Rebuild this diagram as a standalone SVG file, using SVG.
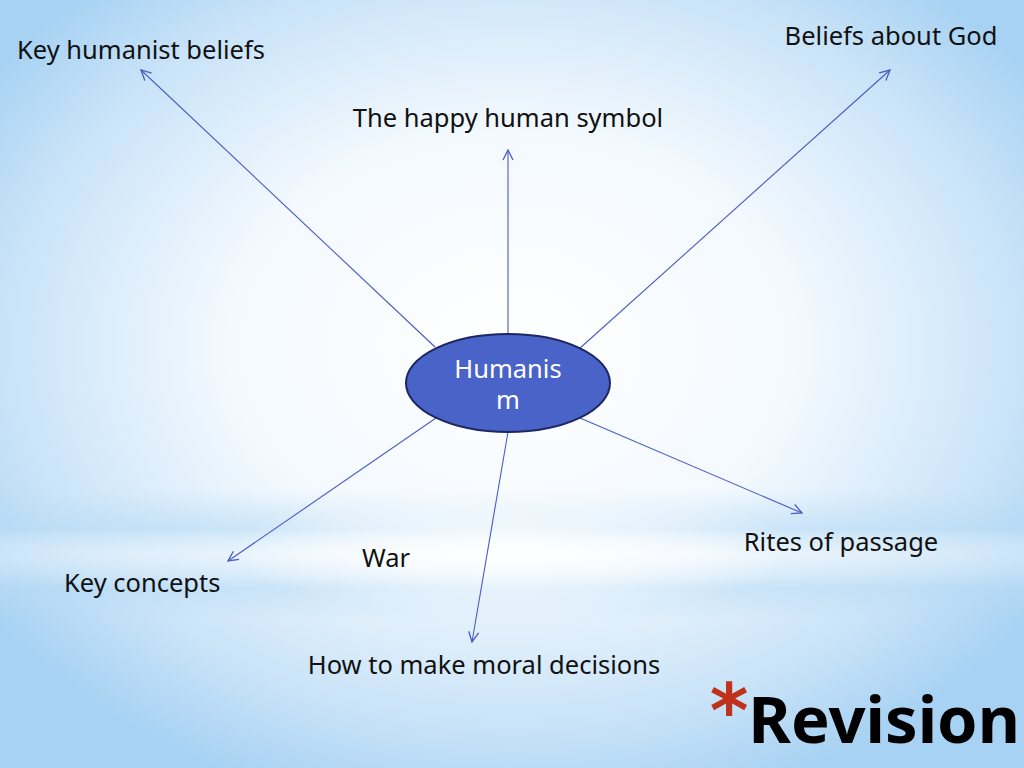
<svg xmlns="http://www.w3.org/2000/svg" width="1024" height="768" viewBox="0 0 1024 768">
<defs>
<radialGradient id="bg" cx="0.5" cy="0.45" r="0.62">
<stop offset="0" stop-color="#ffffff"/>
<stop offset="0.45" stop-color="#f3f9fe"/>
<stop offset="0.8" stop-color="#c9e3f8"/>
<stop offset="1" stop-color="#a7d2f3"/>
</radialGradient>
<linearGradient id="band" x1="0" y1="0" x2="0" y2="1">
<stop offset="0" stop-color="#b6daf5" stop-opacity="0"/>
<stop offset="0.3" stop-color="#b6daf5" stop-opacity="0.55"/>
<stop offset="0.5" stop-color="#ffffff" stop-opacity="0.3"/>
<stop offset="0.75" stop-color="#b6daf5" stop-opacity="0.5"/>
<stop offset="1" stop-color="#b6daf5" stop-opacity="0"/>
</linearGradient>
<radialGradient id="fade" cx="0.5" cy="0.5" r="0.5">
<stop offset="0" stop-color="#ffffff" stop-opacity="0.9"/>
<stop offset="0.6" stop-color="#ffffff" stop-opacity="0.4"/>
<stop offset="1" stop-color="#ffffff" stop-opacity="0"/>
</radialGradient>
<marker id="arr" viewBox="0 0 12 12" refX="11" refY="6" markerWidth="12" markerHeight="12" markerUnits="userSpaceOnUse" orient="auto">
<path d="M1,1 L11,6 L1,11" fill="none" stroke="#4a5cc0" stroke-width="1.3"/>
</marker>
<style>
.lbl{font-family:"Noto Sans","Open Sans","DejaVu Sans",sans-serif;font-size:25.5px;fill:#111}
.conn line{stroke:#4a5cc0;stroke-width:1.1;marker-end:url(#arr)}
</style>
</defs>
<rect width="1024" height="768" fill="url(#bg)"/>
<rect x="0" y="490" width="1024" height="130" fill="url(#band)"/>
<ellipse cx="512" cy="550" rx="280" ry="70" fill="url(#fade)"/>
<g id="connectors" class="conn">
<line x1="435" y1="347" x2="141" y2="70"/>
<line x1="508" y1="334" x2="508" y2="150"/>
<line x1="579" y1="349" x2="890" y2="70"/>
<line x1="436" y1="418" x2="228" y2="561"/>
<line x1="508" y1="432" x2="472" y2="642"/>
<line x1="580" y1="418" x2="802" y2="513"/>
</g>
<g id="humanism">
<ellipse cx="508" cy="383" rx="102" ry="49" fill="#4a63c9" stroke="#1d2760" stroke-width="2"/>
<text x="508" y="378" text-anchor="middle" class="lbl" style="fill:#ffffff">Humanis</text>
<text x="508" y="409" text-anchor="middle" class="lbl" style="fill:#ffffff">m</text>
</g>
<g id="key-humanist-beliefs"><text x="17" y="59" class="lbl">Key humanist beliefs</text></g>
<g id="happy-human"><text x="508" y="127" text-anchor="middle" class="lbl">The happy human symbol</text></g>
<g id="beliefs-god"><text x="891" y="45" text-anchor="middle" class="lbl">Beliefs about God</text></g>
<g id="key-concepts"><text x="64" y="592" class="lbl">Key concepts</text></g>
<g id="war"><text x="362" y="567" class="lbl">War</text></g>
<g id="moral"><text x="484" y="674" text-anchor="middle" class="lbl">How to make moral decisions</text></g>
<g id="rites"><text x="841" y="551" text-anchor="middle" class="lbl">Rites of passage</text></g>
<g id="revision">
<text x="729" y="737" text-anchor="middle" style="font-family:'DejaVu Sans',sans-serif;font-weight:bold;font-size:74px" fill="#c0311c">*</text>
<text x="1020" y="743" text-anchor="end" style="font-family:'Noto Sans','Open Sans','DejaVu Sans',sans-serif;font-weight:bold;font-size:65px" fill="#000000">Revision</text>
</g>
</svg>
